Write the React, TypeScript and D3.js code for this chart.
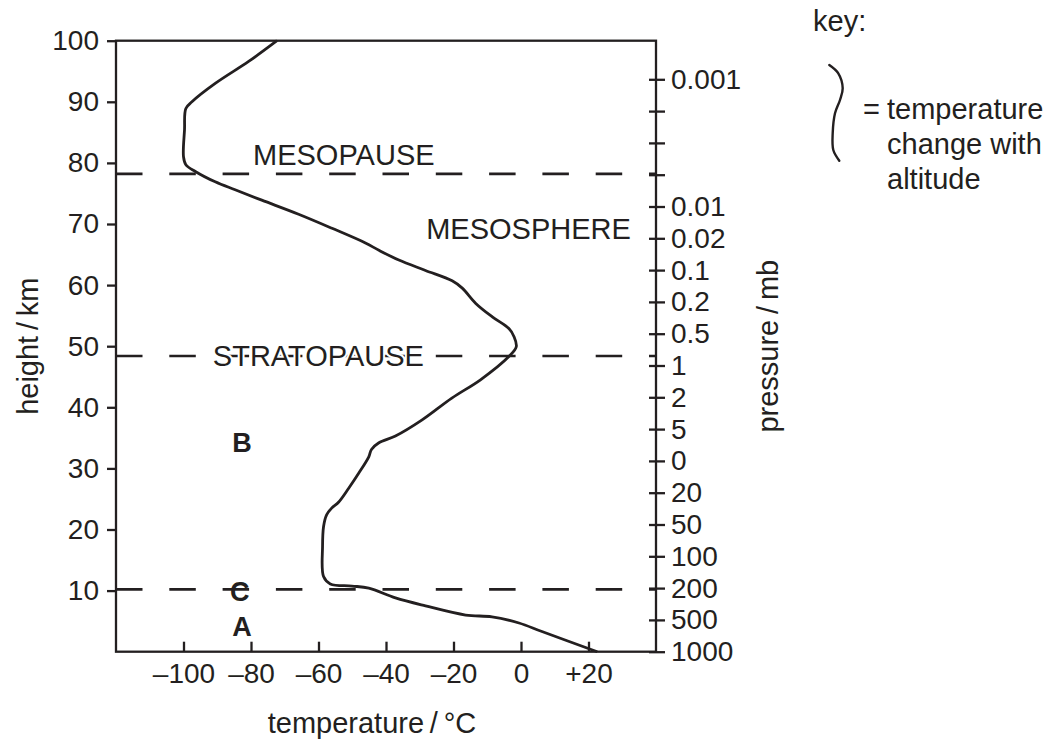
import { useEffect, useRef } from 'react';
import * as d3 from 'd3';

// temperature profile, top to bottom
const profileHeights = [
  100, 96.6, 93.0, 90.0, 88.9, 85.4, 81.0, 79.7, 78.6, 76.9, 75.6, 73.9, 71.6, 69.3, 66.9, 65.7,
  64.1, 62.4, 60.7, 59.5, 57.0, 54.8, 52.9, 51.6, 49.9, 48.3, 44.5, 41.5, 37.9, 35.3, 34.2, 33.1,
  31.9, 29.2, 26.8, 24.5, 23.5, 22.4, 20.5, 17.2, 12.3, 11.1, 10.75, 10.4, 8.8, 7.5, 6.0, 5.7,
  4.7, 3.3, 0,
];
const profileTemps = [
  -72.3, -80.7, -90.6, -97.5, -99.3, -99.7, -100.0, -99.3, -96.5, -90.6, -84.7, -76.8, -65.9, -56.0,
  -46.1, -42.1, -36.2, -28.3, -20.4, -17.4, -13.4, -8.5, -3.6, -2.1, -1.4, -3.6, -12.0, -20.5, -29.4,
  -37.2, -42.1, -44.3, -45.1, -48.1, -51.0, -54.0, -56.1, -57.6, -58.5, -58.8, -58.5, -56.5, -50.1,
  -45.1, -37.2, -28.3, -16.4, -8.6, -0.6, 6.2, 22.6,
];

const heightTicks = [10, 20, 30, 40, 50, 60, 70, 80, 90, 100];
const tempTicks = [-100, -80, -60, -40, -20, 0, 20];
const pressureLabels = [
  '0.001', '', '', '', '0.01', '0.02', '0.1', '0.2', '0.5', '1', '2', '5', '0', '20', '50', '100',
  '200', '500', '1000',
];

const boundaryHeights = [78.2, 48.4, 10.2];
const keyLines = ['temperature', 'change with', 'altitude'];

const INK = '#231f20';
const FONT = '"Liberation Sans", Arial, Helvetica, sans-serif';

function TemperatureProfile({ width = 1050, height = 747 }) {
  const svgRef = useRef(null);

  useEffect(() => {
    const svg = d3.select(svgRef.current);
    svg.selectAll('*').remove();

    const x = d3.scaleLinear().domain([-120, 40]).range([116, 656]);
    const y = d3.scaleLinear().domain([0, 100]).range([651.7, 40.7]);
    const p = d3
      .scalePoint()
      .domain(pressureLabels.map((_, i) => i))
      .range([79.3, 651.7]);

    const styleAxis = (g, size = 28) => {
      g.select('.domain').remove();
      g.attr('font-family', FONT).attr('font-size', size);
      g.selectAll('line').attr('stroke', INK).attr('stroke-width', 2.3);
      g.selectAll('text').attr('fill', INK);
    };

    // boundary lines
    svg
      .append('g')
      .selectAll('line')
      .data(boundaryHeights)
      .enter()
      .append('line')
      .attr('x1', x(-120))
      .attr('x2', x(40))
      .attr('y1', (d) => y(d))
      .attr('y2', (d) => y(d))
      .attr('stroke', INK)
      .attr('stroke-width', 2.6)
      .attr('stroke-dasharray', '26.5 26.8');

    // frame
    svg
      .append('rect')
      .attr('x', x(-120))
      .attr('y', y(100))
      .attr('width', x(40) - x(-120))
      .attr('height', y(0) - y(100))
      .attr('fill', 'none')
      .attr('stroke', INK)
      .attr('stroke-width', 2.3);

    // left axis
    svg
      .append('g')
      .attr('transform', `translate(${x(-120)},0)`)
      .call(d3.axisLeft(y).tickValues(heightTicks).tickSize(9).tickPadding(8))
      .call((g) => styleAxis(g));

    // bottom axis, ticks pointing inward
    svg
      .append('g')
      .attr('transform', `translate(0,${y(0)})`)
      .call(
        d3
          .axisBottom(x)
          .tickValues(tempTicks)
          .tickSize(-10)
          .tickPadding(11)
          .tickFormat((d) => (d > 0 ? `+${d}` : d < 0 ? `\u2013${-d}` : '0'))
      )
      .call((g) => styleAxis(g));

    // right pressure axis, ticks across the line
    const right = svg
      .append('g')
      .attr('transform', `translate(${x(40)},0)`)
      .call(
        d3
          .axisRight(p)
          .tickSize(9)
          .tickPadding(6)
          .tickFormat((i) => pressureLabels[i])
      )
      .call((g) => styleAxis(g));
    right.selectAll('.tick line').attr('x1', -7);

    // profile
    const points = profileTemps.map((t, i) => [t, profileHeights[i]]);
    const line = d3
      .line()
      .x((d) => x(d[0]))
      .y((d) => y(d[1]))
      .curve(d3.curveCatmullRom.alpha(0.5));
    svg
      .append('path')
      .datum(points)
      .attr('d', line)
      .attr('fill', 'none')
      .attr('stroke', INK)
      .attr('stroke-width', 2.8)
      .attr('stroke-linejoin', 'round');

    // labels
    const label = (text, tx, hy, opts = {}) => {
      const t = svg
        .append('text')
        .attr('x', x(tx))
        .attr('y', y(hy))
        .attr('font-family', FONT)
        .attr('font-size', opts.size || 29)
        .attr('font-weight', opts.bold ? 'bold' : 'normal')
        .attr('text-anchor', opts.anchor || 'start')
        .attr('dominant-baseline', opts.baseline || 'auto')
        .attr('fill', INK)
        .text(text);
      if (opts.halo) {
        t.attr('stroke', '#fff').attr('stroke-width', 4).attr('paint-order', 'stroke');
      }
      return t;
    };

    label('MESOPAUSE', -79.4, 79.7);
    label('MESOSPHERE', -28.1, 67.5);
    label('STRATOPAUSE', -91.3, 46.8, { halo: true });
    label('B', -82.7, 34.2, { bold: true, size: 27, anchor: 'middle', baseline: 'central' });
    label('C', -83.3, 9.75, { bold: true, size: 27, anchor: 'middle', baseline: 'central' });
    label('A', -82.7, 4.0, { bold: true, size: 27, anchor: 'middle', baseline: 'central' });

    // axis titles
    svg
      .append('text')
      .attr('transform', `translate(38,${y(50)}) rotate(-90)`)
      .attr('text-anchor', 'middle')
      .attr('font-family', FONT)
      .attr('font-size', 29)
      .attr('fill', INK)
      .text('height\u2009/\u2009km');
    svg
      .append('text')
      .attr('transform', `translate(778,${y(50)}) rotate(-90)`)
      .attr('text-anchor', 'middle')
      .attr('font-family', FONT)
      .attr('font-size', 29)
      .attr('fill', INK)
      .text('pressure\u2009/\u2009mb');
    svg
      .append('text')
      .attr('x', 372)
      .attr('y', 733)
      .attr('text-anchor', 'middle')
      .attr('font-family', FONT)
      .attr('font-size', 29)
      .attr('fill', INK)
      .text('temperature\u2009/\u2009\u00b0C');

    // key
    const key = svg.append('g').attr('transform', 'translate(813,0)');
    key
      .append('text')
      .attr('x', 0)
      .attr('y', 31)
      .attr('font-family', FONT)
      .attr('font-size', 29)
      .attr('fill', INK)
      .text('key:');
    const brace = [
      [16.3, 65],
      [25.3, 73.3],
      [29.7, 88.3],
      [27, 100],
      [22, 113.3],
      [19.7, 133.3],
      [20.3, 150],
      [26.3, 160.7],
    ];
    key
      .append('path')
      .attr('d', d3.line().curve(d3.curveCatmullRom.alpha(0.5))(brace))
      .attr('fill', 'none')
      .attr('stroke', INK)
      .attr('stroke-width', 2.4)
      .attr('stroke-linecap', 'round');
    key
      .append('text')
      .attr('x', 50)
      .attr('y', 119)
      .attr('font-family', FONT)
      .attr('font-size', 29)
      .attr('fill', INK)
      .text('=');
    key
      .append('g')
      .selectAll('text')
      .data(keyLines)
      .enter()
      .append('text')
      .attr('x', 74)
      .attr('y', (d, i) => 119 + i * 35)
      .attr('font-family', FONT)
      .attr('font-size', 29)
      .attr('fill', INK)
      .text((d) => d);
  }, []);

  return (
    <svg
      ref={svgRef}
      width={width}
      height={height}
      style={{ position: 'absolute', left: 0, top: 0, background: '#fff' }}
    />
  );
}

export default function App() {
  return <TemperatureProfile />;
}
